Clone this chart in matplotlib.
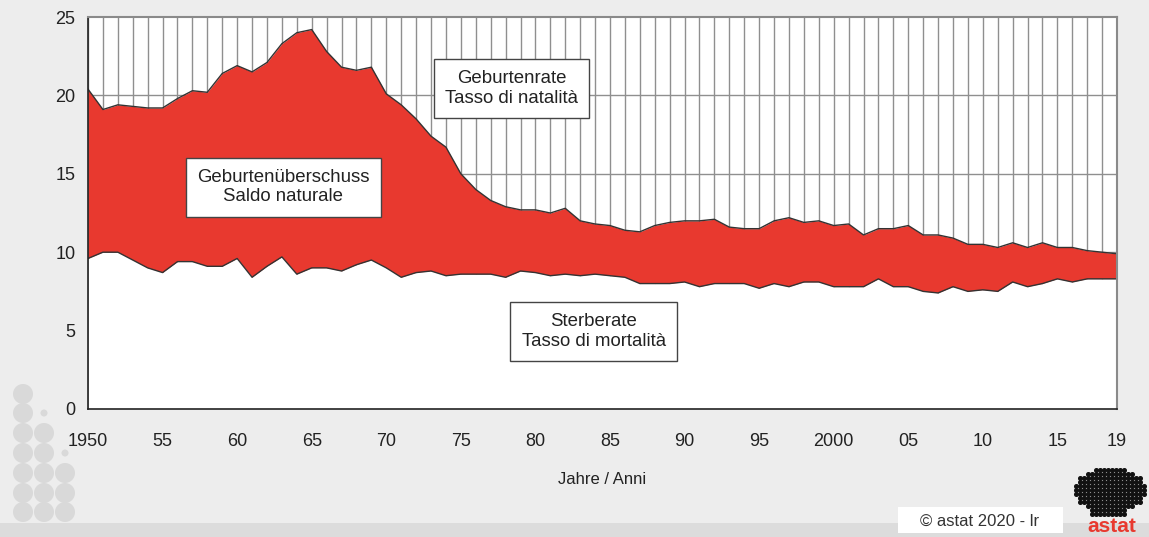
import matplotlib
matplotlib.use('Agg')
import matplotlib.pyplot as plt
import numpy as np
from matplotlib.patches import Circle, Rectangle

plt.rcParams['font.family'] = ['Liberation Sans', 'DejaVu Sans']

years = np.arange(1950, 2020)

# Geburtenrate / Tasso di natalita (per 1000)
birth = [20.4, 19.1, 19.4, 19.3, 19.2, 19.2, 19.8, 20.3, 20.2, 21.4,
         21.9, 21.5, 22.1, 23.3, 24.0, 24.2, 22.8, 21.8, 21.6, 21.8,
         20.1, 19.4, 18.5, 17.4, 16.7, 15.0, 14.0, 13.3, 12.9, 12.7,
         12.7, 12.5, 12.8, 12.0, 11.8, 11.7, 11.4, 11.3, 11.7, 11.9,
         12.0, 12.0, 12.1, 11.6, 11.5, 11.5, 12.0, 12.2, 11.9, 12.0,
         11.7, 11.8, 11.1, 11.5, 11.5, 11.7, 11.1, 11.1, 10.9, 10.5,
         10.5, 10.3, 10.6, 10.3, 10.6, 10.3, 10.3, 10.1, 10.0, 9.9]

# Sterberate / Tasso di mortalita (per 1000)
death = [9.6, 10.0, 10.0, 9.5, 9.0, 8.7, 9.4, 9.4, 9.1, 9.1,
         9.6, 8.4, 9.1, 9.7, 8.6, 9.0, 9.0, 8.8, 9.2, 9.5,
         9.0, 8.4, 8.7, 8.8, 8.5, 8.6, 8.6, 8.6, 8.4, 8.8,
         8.7, 8.5, 8.6, 8.5, 8.6, 8.5, 8.4, 8.0, 8.0, 8.0,
         8.1, 7.8, 8.0, 8.0, 8.0, 7.7, 8.0, 7.8, 8.1, 8.1,
         7.8, 7.8, 7.8, 8.3, 7.8, 7.8, 7.5, 7.4, 7.8, 7.5,
         7.6, 7.5, 8.1, 7.8, 8.0, 8.3, 8.1, 8.3, 8.3, 8.3]

x_ticks = [1950, 1955, 1960, 1965, 1970, 1975, 1980, 1985, 1990, 1995,
           2000, 2005, 2010, 2015, 2019]
x_labels = ['1950', '55', '60', '65', '70', '75', '80', '85', '90', '95',
            '2000', '05', '10', '15', '19']

bg = '#ededed'
red = '#e8392f'

fig = plt.figure(figsize=(11.49, 5.37), dpi=100, facecolor=bg)
ax = fig.add_axes([0.0766, 0.2384, 0.8956, 0.7299])
ax.set_facecolor('white')

# grid: one vertical line per year, horizontal every 5
for yr in years:
    ax.axvline(yr, color='#8f8f8f', lw=1.0, zorder=1)
for yv in [5, 10, 15, 20]:
    ax.axhline(yv, color='#8f8f8f', lw=1.0, zorder=1)

ax.fill_between(years, death, birth, color=red, lw=0, zorder=2)
ax.fill_between(years, 0, death, color='white', lw=0, zorder=2)
ax.plot(years, birth, color='#333333', lw=1.0, zorder=3)
ax.plot(years, death, color='#333333', lw=1.0, zorder=3)

ax.set_xlim(1950, 2019)
ax.set_ylim(0, 25)
ax.set_xticks(x_ticks)
ax.set_xticklabels(x_labels)
ax.set_yticks([0, 5, 10, 15, 20, 25])
ax.tick_params(axis='x', length=0, pad=17, labelsize=13, colors='#222222')
ax.tick_params(axis='y', length=0, pad=9, labelsize=13, colors='#222222')
ax.set_xlabel('Jahre / Anni', fontsize=12, color='#222222', labelpad=16)

for side in ['top', 'right']:
    ax.spines[side].set_color('#8a8a8a')
    ax.spines[side].set_linewidth(1.5)
for side in ['left', 'bottom']:
    ax.spines[side].set_color('#222222')
    ax.spines[side].set_linewidth(1.2)
for s in ax.spines.values():
    s.set_zorder(5)

box = dict(boxstyle='square,pad=0.6', facecolor='white', edgecolor='#444444', lw=1.0)
labels = [(1978.4, 20.45, 'Geburtenrate\nTasso di natalità'),
          (1963.1, 14.15, 'Geburtenüberschuss\nSaldo naturale'),
          (1983.9, 4.95, 'Sterberate\nTasso di mortalità')]
for lx, ly, txt in labels:
    ax.text(lx, ly, txt, ha='center', va='center', fontsize=13.4, color='#222222',
            bbox=box, zorder=6, linespacing=1.2)

# decoration: bottom strip, dot pattern, copyright, logo
W, H = 1149, 537
fig.patches.append(Rectangle((0, 0), 1, 14 / H, transform=fig.transFigure,
                             facecolor='#dcdcdc', edgecolor='none', zorder=0))
fig.patches.append(Rectangle((898 / W, 4 / H), 165 / W, 26 / H, transform=fig.transFigure,
                             facecolor='white', edgecolor='none', zorder=1))
fig.text(980 / W, 16 / H, '© astat 2020 - lr', ha='center', va='center',
         fontsize=12, color='#333333')

rows_y = [394, 413, 433, 453, 473, 493, 512]
cols_x = [23, 44, 65]
pattern = ['B..', 'Bs.', 'BB.', 'BBs', 'BBB', 'BBB', 'BBB']
for ry, row in zip(rows_y, pattern):
    for cx, c in zip(cols_x, row):
        if c == '.':
            continue
        r = 10 if c == 'B' else 3.5
        fig.patches.append(Circle((cx, H - ry), r, transform=None,
                                  facecolor='#d9d9d9', edgecolor='none', zorder=1))

# simple dotted logo blob
gx, gy = np.meshgrid(np.arange(1076, 1146, 4), np.arange(470, 520, 4))
gx, gy = gx.ravel(), gy.ravel()
inside = ((gx - 1110) / 36) ** 2 + ((gy - 490) / 22) ** 2 < 1
inside |= (gx > 1090) & (gx < 1125) & (gy > 505) & (gy < 518)
fig.add_artist(plt.Line2D(gx[inside] / W, 1 - gy[inside] / H, transform=fig.transFigure,
                          ls='none', marker='o', ms=2.6, color='#111111'))
fig.text(1112 / W, 1 / H, 'astat', ha='center', va='bottom', fontsize=15,
         fontweight='bold', color=red)

fig.savefig('out.png', dpi=100, facecolor=bg)
